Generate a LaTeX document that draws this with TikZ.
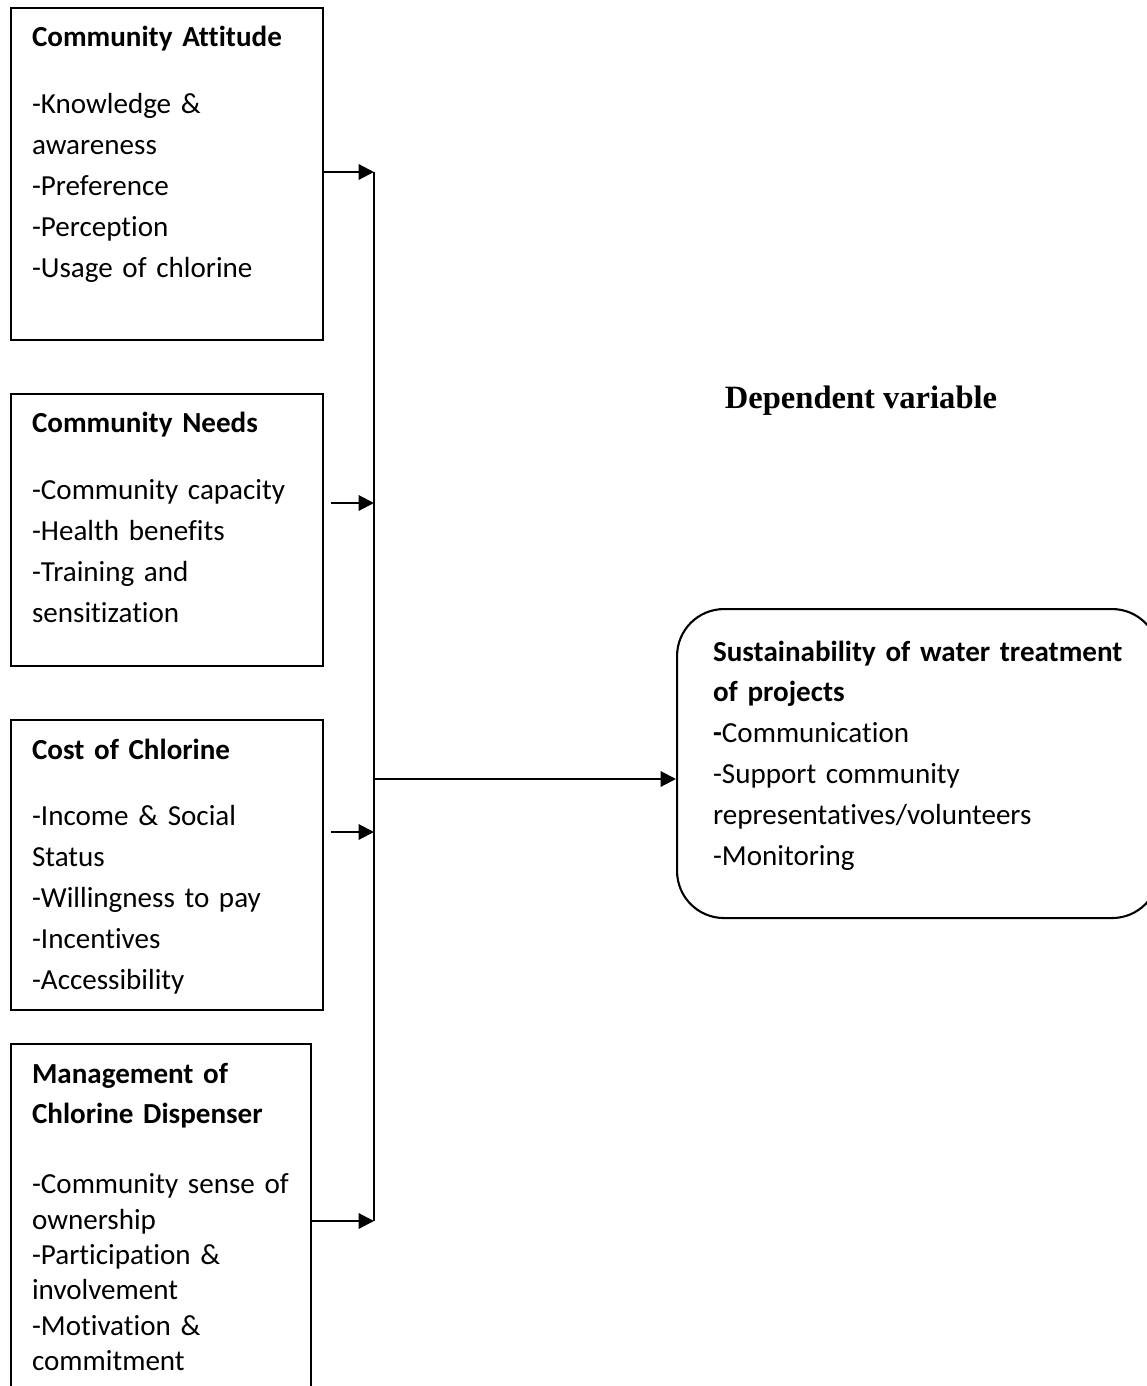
\documentclass[tikz,border=0pt]{standalone}
\usepackage{fontspec}
\setmainfont{Carlito}[Ligatures={NoCommon,NoContextual}]
\newfontfamily\serifbold{Liberation Serif}
\usepackage{tikz}
\usetikzlibrary{arrows.meta,calc}
\newdimen\dpx \dpx=0.43pt
\tikzset{
  factor/.style  = {draw, line width=0.9pt, anchor=north west, align=left,
                    inner xsep=21\dpx, inner ysep=0pt, font=\fontsize{12.5}{17.6}\selectfont},
  outcome/.style = {factor, rounded corners=47\dpx, inner xsep=36\dpx},
  sig/.style     = {-{Triangle[length=6.6pt, width=6.6pt]}, line width=0.9pt},
  wire/.style    = {line width=0.9pt},
  head/.style    = {font=\serifbold\fontsize{14}{16}\selectfont\bfseries},
}

\begin{document}
\begin{tikzpicture}[x=\dpx, y=-\dpx]
  \useasboundingbox (0,0) rectangle (1146,1386);
  \node[factor, text width=270\dpx, text height=38\dpx, text depth=294\dpx] (att) at (10,7)
    {\textbf{Community Attitude}\\[27\dpx]
     -Knowledge \&\\ awareness\\ -Preference\\ -Perception\\ -Usage of chlorine};
  \node[factor, text width=270\dpx, text height=38\dpx, text depth=234\dpx] (need) at (10,393)
    {\textbf{Community Needs}\\[27\dpx]
     -Community capacity\\ -Health benefits\\ -Training and\\ sensitization};
  \node[factor, text width=270\dpx, text height=39\dpx, text depth=251\dpx] (cost) at (10,719)
    {\textbf{Cost of Chlorine}\\[26\dpx]
     -Income \& Social\\ Status\\ -Willingness to pay\\ -Incentives\\ -Accessibility};
  \node[factor, text width=258\dpx, text height=39\dpx, text depth=330\dpx,
        font=\fontsize{12.5}{15.2}\selectfont] (mgmt) at (10,1043)
    {\textbf{Management of}\\[5\dpx] \textbf{Chlorine Dispenser}\\[35\dpx]
     -Community sense of\\ ownership\\ -Participation \&\\ involvement\\ -Motivation \&\\ commitment};
  \node[outcome, text width=410\dpx, text height=52\dpx, text depth=257\dpx] (sus) at (676,608)
    {\textbf{Sustainability of water treatment}\\ \textbf{of projects}\\
     \textbf{-}Communication\\ -Support community\\ representatives/volunteers\\ -Monitoring};
  \node[head, anchor=base] (dep) at (861,408) {Dependent variable};

  \coordinate (b1) at (374,172);
  \coordinate (b2) at (374,503);
  \coordinate (bm) at (374,779);
  \coordinate (b3) at (374,832);
  \coordinate (b4) at (374,1221);
  \draw[wire] (b1) -- (b4);
  \draw[sig] (att.east |- b1) -- (b1);
  \draw[sig] ($(need.east |- b2)+(7,0)$) -- (b2);
  \draw[sig] ($(cost.east |- b3)+(7,0)$) -- (b3);
  \draw[sig] (mgmt.east |- b4) -- (b4);
  \draw[sig] (bm) -- (sus.west |- bm);
\end{tikzpicture}
\end{document}
